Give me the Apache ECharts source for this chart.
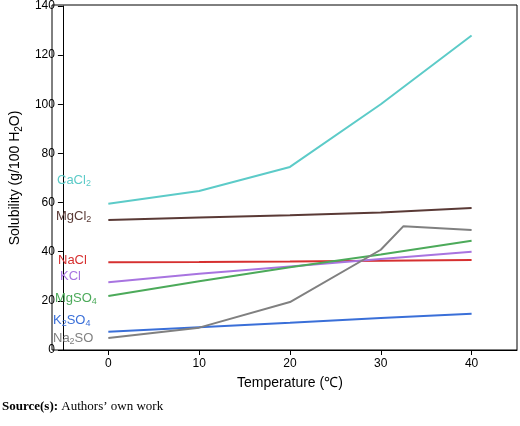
<!DOCTYPE html>
<html><head><meta charset="utf-8">
<script src="https://cdn.jsdelivr.net/npm/echarts@6/dist/echarts.min.js"></script>
<style>html,body{margin:0;background:#fff}#chart{width:520px;height:426px}</style>
</head><body><div id="chart"></div>
<script>
var temps = [0, 10, 20, 30, 40];
var cacl2 = [59.5, 64.7, 74.5, 100, 128];
var mgcl2 = [52.9, 53.9, 54.8, 56, 57.8];
var nacl = [35.7, 35.8, 36, 36.3, 36.6];
var kcl = [27.6, 31, 34, 37, 40];
var mgso4 = [22, 28, 33.7, 38.9, 44.5];
var k2so4 = [7.4, 9.3, 11.1, 13, 14.8];
var na2soT = [0, 10, 20, 30, 32.5, 40];
var na2so = [4.9, 9.1, 19.5, 40.8, 50.4, 48.8];
var xTicks = [0, 10, 20, 30, 40];

function pairs(xs, ys) { return xs.map(function (x, i) { return [x, ys[i]]; }); }
function line(name, xs, ys, color) {
    return { name: name, type: 'line', data: pairs(xs, ys), symbol: 'none',
        lineStyle: { color: color, width: 2 }, itemStyle: { color: color } };
}
function label(text, x, y, color) {
    return { type: 'text', left: x, top: y, z: 10,
        style: { text: text, fill: color, fontSize: 13, fontFamily: 'Arial',
            rich: { s: { fontSize: 9, fill: color, padding: [7, 0, 0, 0] } } } };
}

var myChart = echarts.init(document.getElementById('chart'));
var option = {
    animation: false,
    grid: { left: 52, right: 3, top: 5, bottom: 76 },
    xAxis: {
        type: 'value', min: -5, max: 45,
        name: 'Temperature (℃)', nameLocation: 'middle', nameGap: 26,
        nameTextStyle: { fontSize: 14, color: '#000', fontFamily: 'Arial' },
        axisLine: { onZero: false, lineStyle: { color: '#000', width: 1 } },
        axisTick: { customValues: xTicks, lineStyle: { color: '#000' } },
        axisLabel: { customValues: xTicks, color: '#000', fontSize: 12, fontFamily: 'Arial' },
        splitLine: { show: false }
    },
    yAxis: {
        type: 'value', min: 0, max: 140, interval: 20,
        name: 'Solubility (g/100 H{s|2}O)', nameLocation: 'middle', nameGap: 32,
        nameTextStyle: { fontSize: 14, color: '#000', fontFamily: 'Arial',
            rich: { s: { fontSize: 10, padding: [8, 0, 0, 0] } } },
        axisLine: { show: true, onZero: false, lineStyle: { color: '#000', width: 1 } },
        axisTick: { show: true, lineStyle: { color: '#000' } },
        axisLabel: { color: '#000', fontSize: 12, fontFamily: 'Arial' },
        splitLine: { show: false }
    },
    graphic: [
        { type: 'rect', shape: { x: 52, y: 5, width: 465, height: 345 },
            style: { fill: 'none', stroke: '#000', lineWidth: 1 }, z: 5 },
        label('CaCl{s|2}', 57, 174, '#5ccbc8'),
        label('MgCl{s|2}', 56, 210, '#5a3a36'),
        label('NaCl', 58, 254, '#d63030'),
        label('KCl', 60, 270, '#a874e0'),
        label('MgSO{s|4}', 55, 292, '#4caa5a'),
        label('K{s|2}SO{s|4}', 53, 314, '#3a6fd8'),
        label('Na{s|2}SO', 53, 332, '#808080'),
        { type: 'text', left: 2, top: 400,
            style: { text: '{b|Source(s):} Authors\u2019 own work', fontSize: 13,
                fontFamily: 'Liberation Serif', fill: '#000',
                rich: { b: { fontWeight: 'bold', fontSize: 13, fontFamily: 'Liberation Serif' } } } }
    ],
    series: [
        line('CaCl2', temps, cacl2, '#5ccbc8'),
        line('MgCl2', temps, mgcl2, '#5a3a36'),
        line('NaCl', temps, nacl, '#d63030'),
        line('KCl', temps, kcl, '#a874e0'),
        line('MgSO4', temps, mgso4, '#4caa5a'),
        line('K2SO4', temps, k2so4, '#3a6fd8'),
        line('Na2SO4', na2soT, na2so, '#808080')
    ]
};
myChart.setOption(option);
</script></body></html>
